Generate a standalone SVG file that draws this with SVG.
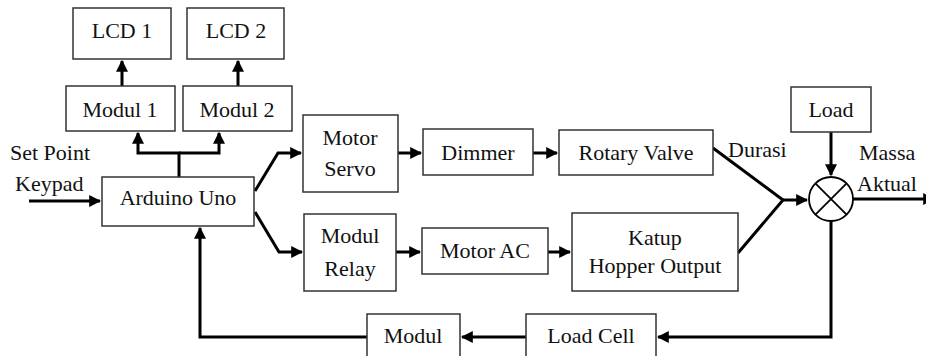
<svg xmlns="http://www.w3.org/2000/svg" width="926" height="356" viewBox="0 0 926 356" font-family="'Liberation Serif', 'Times New Roman', 'DejaVu Serif', serif">
<style>
.b{fill:#fff;stroke:#333;stroke-width:1.5}
text{font-family:'Liberation Serif','Times New Roman','DejaVu Serif',serif;font-size:22px;fill:#111}
.c{text-anchor:middle}
.w{fill:none;stroke:#000;stroke-width:3}
</style>
<defs>
<marker id="a" viewBox="0 0 10 10" refX="9" refY="5" markerWidth="4" markerHeight="4" orient="auto" markerUnits="strokeWidth">
<path d="M0,0 L10,5 L0,10 Z" fill="#000"/>
</marker>
</defs>
<rect width="926" height="356" fill="#fff"/>
<g id="connectors">
<path class="w" d="M122,86 V61" marker-end="url(#a)"/>
<path class="w" d="M238,86 V61" marker-end="url(#a)"/>
<path class="w" d="M179,177 V153 H138 V133" marker-end="url(#a)"/>
<path class="w" d="M179,153 H219 V133" marker-end="url(#a)"/>
<path class="w" d="M29,201 H100" marker-end="url(#a)"/>
<path class="w" d="M255,191 L278,153 H301" marker-end="url(#a)"/>
<path class="w" d="M255,212 L279,252 H302" marker-end="url(#a)"/>
<path class="w" d="M398,153 H421" marker-end="url(#a)"/>
<path class="w" d="M533,153 H557" marker-end="url(#a)"/>
<path class="w" d="M396,252 H420" marker-end="url(#a)"/>
<path class="w" d="M548,252 H570" marker-end="url(#a)"/>
<path class="w" d="M713,148 L783,200 L738,253"/>
<path class="w" d="M783,200 H807" marker-end="url(#a)"/>
<path class="w" d="M831,132 V175" marker-end="url(#a)"/>
<path class="w" d="M853,199 H934" marker-end="url(#a)"/>
<path class="w" d="M831,221 V337 H658" marker-end="url(#a)"/>
<path class="w" d="M526,337 H462" marker-end="url(#a)"/>
<path class="w" d="M367,337 H200 V228" marker-end="url(#a)"/>
</g>
<g id="lcd1"><rect class="b" x="73" y="8" width="98" height="51"/><text class="c" x="122" y="38">LCD 1</text></g>
<g id="lcd2"><rect class="b" x="187" y="8" width="97" height="51"/><text class="c" x="236" y="38">LCD 2</text></g>
<g id="modul1"><rect class="b" x="66" y="86" width="109" height="45"/><text class="c" x="120" y="117">Modul 1</text></g>
<g id="modul2"><rect class="b" x="183" y="86" width="109" height="45"/><text class="c" x="237" y="117">Modul 2</text></g>
<g id="setpoint"><text x="10" y="160">Set Point</text><text x="15" y="191">Keypad</text></g>
<g id="arduino"><rect class="b" x="102" y="177" width="152" height="49"/><text class="c" x="178" y="205">Arduino Uno</text></g>
<g id="servo"><rect class="b" x="303" y="115" width="95" height="77"/><text class="c" x="350" y="145">Motor</text><text class="c" x="350" y="176">Servo</text></g>
<g id="dimmer"><rect class="b" x="423" y="129" width="110" height="46"/><text class="c" x="478" y="160">Dimmer</text></g>
<g id="rotary"><rect class="b" x="559" y="130" width="154" height="45"/><text class="c" x="636" y="160">Rotary Valve</text></g>
<g id="relay"><rect class="b" x="304" y="214" width="92" height="77"/><text class="c" x="350" y="243">Modul</text><text class="c" x="350" y="276">Relay</text></g>
<g id="motorac"><rect class="b" x="422" y="228" width="126" height="46"/><text class="c" x="485" y="258">Motor AC</text></g>
<g id="katup"><rect class="b" x="572" y="213" width="166" height="78"/><text class="c" x="655" y="245">Katup</text><text class="c" x="655" y="273">Hopper Output</text></g>
<g id="durasi"><text x="728" y="157">Durasi</text></g>
<g id="load"><rect class="b" x="791" y="87" width="80" height="45"/><text class="c" x="831" y="117">Load</text></g>
<g id="sum"><circle cx="831" cy="199" r="22" fill="#fff" stroke="#000" stroke-width="1.8"/><path d="M815.4,183.4 L846.6,214.6 M846.6,183.4 L815.4,214.6" stroke="#000" stroke-width="1.8"/></g>
<g id="massa"><text x="859" y="160">Massa</text><text x="857" y="191">Aktual</text></g>
<g id="loadcell"><rect class="b" x="526" y="314" width="130" height="50"/><text class="c" x="591" y="343">Load Cell</text></g>
<g id="modul"><rect class="b" x="367" y="314" width="93" height="50"/><text class="c" x="413" y="343">Modul</text></g>
</svg>
